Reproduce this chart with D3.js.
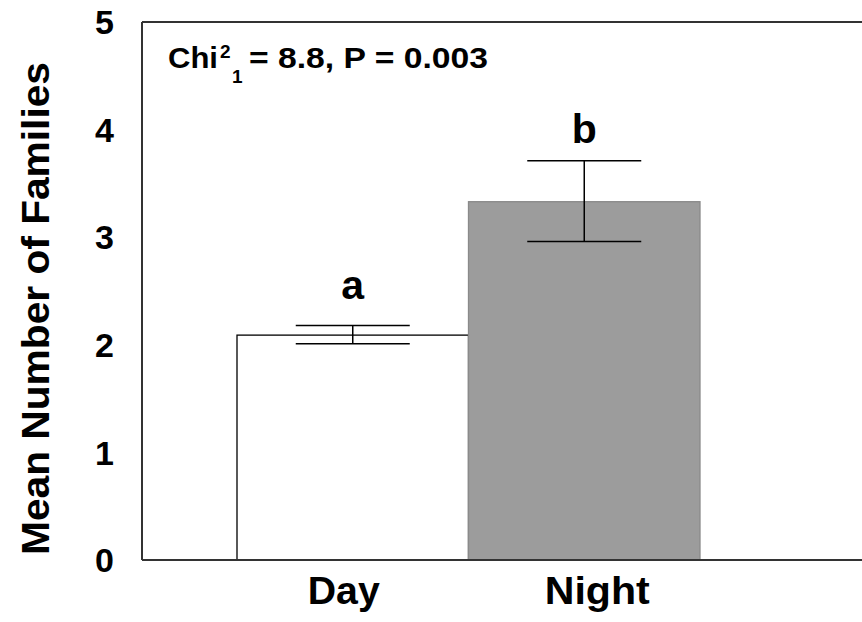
<!DOCTYPE html>
<html>
<head>
<meta charset="utf-8">
<script src="https://cdn.jsdelivr.net/npm/d3@7"></script>
<style>
  html, body { margin: 0; padding: 0; background: #fff; }
  svg { display: block; }
  text { font-family: "Liberation Sans", Arial, sans-serif; font-weight: bold; fill: #000; }
</style>
</head>
<body>
<svg id="chart" width="862" height="622"></svg>
<script>
const categories = ["Day", "Night"];
const means = [2.09, 3.33];
const errUpper = [2.18, 3.71];
const errLower = [2.01, 2.96];
const letters = ["a", "b"];
const barFills = ["#ffffff", "#9c9c9c"];
const barStrokes = ["#000000", "#8a8a8a"];
const yTicks = [0, 1, 2, 3, 4, 5];
const yTitle = "Mean Number of Families";

const svg = d3.select("#chart");
const plot = { left: 142, right: 862, top: 22, bottom: 560 };

const y = d3.scaleLinear().domain([0, 5]).range([plot.bottom, plot.top]);
const x = d3.scaleBand().domain(categories).range([237, 700]).paddingInner(0).paddingOuter(0);

// bars
svg.selectAll("rect.bar").data(categories).join("rect")
  .attr("class", "bar")
  .attr("x", d => x(d))
  .attr("width", x.bandwidth())
  .attr("y", (d, i) => y(means[i]))
  .attr("height", (d, i) => y(0) - y(means[i]))
  .attr("fill", (d, i) => barFills[i])
  .attr("stroke", (d, i) => barStrokes[i])
  .attr("stroke-width", 1.3);

// error bars
const capHalf = 57;
const eb = svg.selectAll("g.err").data(categories).join("g").attr("class", "err");
eb.append("line")
  .attr("x1", d => x(d) + x.bandwidth() / 2).attr("x2", d => x(d) + x.bandwidth() / 2)
  .attr("y1", (d, i) => y(errUpper[i])).attr("y2", (d, i) => y(errLower[i]))
  .attr("stroke", "#000").attr("stroke-width", 1.5);
eb.append("line")
  .attr("x1", d => x(d) + x.bandwidth() / 2 - capHalf).attr("x2", d => x(d) + x.bandwidth() / 2 + capHalf)
  .attr("y1", (d, i) => y(errUpper[i])).attr("y2", (d, i) => y(errUpper[i]))
  .attr("stroke", "#000").attr("stroke-width", 1.5);
eb.append("line")
  .attr("x1", d => x(d) + x.bandwidth() / 2 - capHalf).attr("x2", d => x(d) + x.bandwidth() / 2 + capHalf)
  .attr("y1", (d, i) => y(errLower[i])).attr("y2", (d, i) => y(errLower[i]))
  .attr("stroke", "#000").attr("stroke-width", 1.5);

// significance letters
const letterGap = [26, 18];
svg.selectAll("text.letter").data(categories).join("text")
  .attr("class", "letter")
  .attr("x", d => x(d) + x.bandwidth() / 2)
  .attr("y", (d, i) => y(errUpper[i]) - letterGap[i])
  .attr("text-anchor", "middle")
  .style("font-size", "41px")
  .text((d, i) => letters[i]);

// frame lines
const frame = svg.append("g").attr("stroke", "#333").attr("stroke-width", 2);
frame.append("line").attr("x1", plot.left).attr("x2", plot.left).attr("y1", y(5)).attr("y2", y(0));
frame.append("line").attr("x1", plot.left).attr("x2", plot.right).attr("y1", y(0)).attr("y2", y(0));
frame.append("line").attr("x1", plot.left).attr("x2", plot.right).attr("y1", y(5)).attr("y2", y(5));

// y tick labels
svg.selectAll("text.ytick").data(yTicks).join("text")
  .attr("class", "ytick")
  .attr("x", 114)
  .attr("y", d => y(d))
  .attr("dy", "0.36em")
  .attr("text-anchor", "end")
  .style("font-size", "34px")
  .text(d => d);

// x tick labels
const xLabelShift = { Day: -9, Night: 13 };
const xLabelLen = { Day: 72, Night: 105 };
svg.selectAll("text.xtick").data(categories).join("text")
  .attr("class", "xtick")
  .attr("x", d => x(d) + x.bandwidth() / 2 + xLabelShift[d] - xLabelLen[d] / 2)
  .attr("y", 604)
  .attr("textLength", d => xLabelLen[d])
  .attr("lengthAdjust", "spacingAndGlyphs")
  .style("font-size", "38px")
  .text(d => d);

// y title
svg.append("text")
  .attr("transform", "translate(49,555) rotate(-90)")
  .attr("x", 0).attr("y", 0)
  .attr("textLength", 493)
  .attr("lengthAdjust", "spacingAndGlyphs")
  .style("font-size", "39px")
  .text(yTitle);

// statistics annotation
const ann = svg.append("g");
ann.append("text").attr("x", 168).attr("y", 68).attr("textLength", 50).attr("lengthAdjust", "spacingAndGlyphs")
  .style("font-size", "29px").text("Chi");
ann.append("text").attr("x", 220).attr("y", 58).style("font-size", "19px").text("2");
ann.append("text").attr("x", 232).attr("y", 83).style("font-size", "19px").text("1");
ann.append("text").attr("x", 249).attr("y", 68).attr("textLength", 239).attr("lengthAdjust", "spacingAndGlyphs")
  .style("font-size", "29px").text("= 8.8, P = 0.003");
</script>
</body>
</html>
